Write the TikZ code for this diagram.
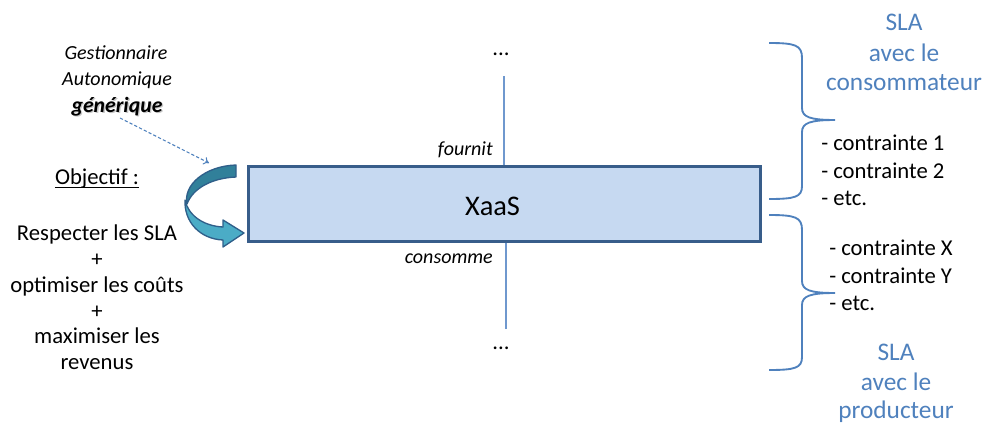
\documentclass[tikz,border=0pt]{standalone}
\usepackage{fontspec}
\setmainfont{Carlito}
\usetikzlibrary{arrows.meta}
\definecolor{slablue}{HTML}{4F81BD}
\definecolor{linkblue}{HTML}{6F98CE}
\definecolor{boxfill}{HTML}{C6D9F1}
\definecolor{boxline}{HTML}{385D8A}
\definecolor{arrdark}{HTML}{31809A}
\definecolor{arrlight}{HTML}{4BACC6}
\definecolor{arrline}{HTML}{2F5F8A}
\begin{document}
\begin{tikzpicture}[x=0.75pt,y=-0.75pt,
  txt/.style={font=\fontsize{17}{20}\selectfont, inner sep=0pt, anchor=base},
  bluetxt/.style={font=\fontsize{19}{23}\selectfont, text=slablue, inner sep=0pt, anchor=base},
  lbl/.style={font=\fontsize{15}{18}\selectfont\itshape, inner sep=0pt, anchor=base east},
  gtxt/.style={font=\fontsize{15}{18}\selectfont\itshape, inner sep=0pt, anchor=base},
  gbold/.style={font=\fontsize{16.3}{19}\selectfont\bfseries\itshape, inner sep=0pt, anchor=base},
  listtxt/.style={font=\fontsize{17}{20}\selectfont, inner sep=0pt, anchor=base west},
  vline/.style={draw=linkblue, line width=0.95pt},
  bracepath/.style={draw=slablue, line width=1.4pt},
  dasharrow/.style={draw=slablue, line width=0.8pt, dash pattern=on 2.4pt off 1.6pt, -{To[length=4pt,width=6pt]}},
  bandline/.style={draw=arrline, line width=1pt, line join=round}
]
\useasboundingbox (0,0) rectangle (987,425);

% central box
\node[draw=boxline, fill=boxfill, line width=2pt, minimum width=384pt, minimum height=56.25pt,
      inner sep=0pt, anchor=north west] (box) at (247,165) {};
\node[font=\fontsize{21.3}{25}\selectfont, inner sep=0pt, anchor=base] (xaas) at (492.5,215) {XaaS};

% vertical links
\coordinate (topend) at (504,76);
\coordinate (botend) at (506,329);
\draw[vline] (topend) -- (topend |- box.north);
\draw[vline] (botend) -- (botend |- box.south);
\node[txt] (dtop) at (501,55) {...};
\node[txt] (dbot) at (501,349) {...};
\node[lbl] (fournit) at (493,155) {fournit};
\node[lbl] (consomme) at (493,263) {consomme};

% autonomic manager label
\node[gtxt] (g1) at (116,59) {Gestionnaire};
\node[gtxt] (g2) at (117,85) {Autonomique};
\node[gbold, text=black!22] (g3s) at (118.4,113.6) {générique};
\node[gbold] (g3) at (117,112) {générique};
\coordinate (dstart) at (120,118);
\coordinate (dend) at (209,163);
\draw[dasharrow] (dstart) -- (dend);

% objective
\node[txt] (obj) at (97,184) {Objectif :};
\draw[line width=1.1pt] ([yshift=-2.6pt]obj.base west) -- ([yshift=-2.6pt]obj.base east);
\node[txt] (l1) at (97,240) {Respecter les SLA};
\node[txt] (l2) at (97,266) {+};
\node[txt] (l3) at (97,292) {optimiser les coûts};
\node[txt] (l4) at (97,318) {+};
\node[txt] (l5) at (97,343) {maximiser les};
\node[txt] (l6) at (97,369) {revenus};

% curved loop arrow
\fill[arrlight] (185,200) .. controls (188,215) and (203,226) .. (223,227) -- (223,220) -- (244,233)
   -- (223,247) -- (223,240) .. controls (200,239) and (184,222) .. (185,200) -- cycle;
\draw[bandline] (185,200) .. controls (188,215) and (203,226) .. (223,227) -- (223,220) -- (244,233)
   -- (223,247) -- (223,240) .. controls (200,239) and (184,222) .. (185,200) -- cycle;
\fill[arrdark] (236,165) -- (236,177) .. controls (212,178) and (193,188) .. (187,204)
   .. controls (183,185) and (205,166) .. (236,165) -- cycle;
\draw[bandline] (236,165) -- (236,177) .. controls (212,178) and (193,188) .. (187,204)
   .. controls (183,185) and (205,166) .. (236,165) -- cycle;

% braces
\draw[bracepath] (769,43) .. controls (795,43) and (802,45) .. (802,58) -- (802,108)
   .. controls (802,117) and (810,120) .. (835,120)
   .. controls (810,120) and (802,123) .. (802,132) -- (802,186)
   .. controls (802,197) and (795,199) .. (769,199);
\draw[bracepath] (769,215) .. controls (795,215) and (802,217) .. (802,230) -- (802,281)
   .. controls (802,290) and (810,293) .. (835,293)
   .. controls (810,293) and (802,296) .. (802,305) -- (802,357)
   .. controls (802,368) and (795,370) .. (769,370);

% right texts
\node[bluetxt] (s1) at (904,30) {SLA};
\node[bluetxt] (s2) at (904,61) {avec le};
\node[bluetxt] (s3) at (904,90) {consommateur};
\node[bluetxt] (p1) at (896,360) {SLA};
\node[bluetxt] (p2) at (896,390) {avec le};
\node[bluetxt] (p3) at (896,418) {producteur};

\node[listtxt] (c1) at (821,150) {- contrainte 1};
\node[listtxt] (c2) at (821,178) {- contrainte 2};
\node[listtxt] (c3) at (821,205) {- etc.};
\node[listtxt] (x1) at (829,255) {- contrainte X};
\node[listtxt] (x2) at (829,283) {- contrainte Y};
\node[listtxt] (x3) at (829,310) {- etc.};
\end{tikzpicture}
\end{document}
